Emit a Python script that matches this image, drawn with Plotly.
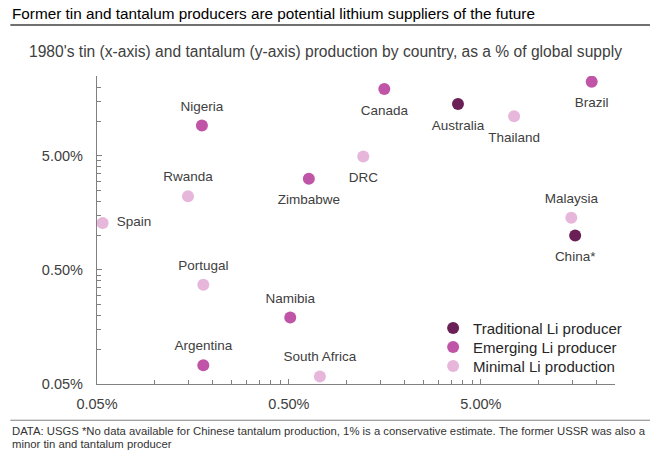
import plotly.graph_objects as go
import math

# ---- data (percent of global supply, 1980s) ----
trad_names = ["Australia", "China*"]
trad_tin = [3.8, 15.5]
trad_tantalum = [14.2, 1.0]

emerg_names = ["Nigeria", "Zimbabwe", "Canada", "Brazil", "Namibia", "Argentina"]
emerg_tin = [0.176, 0.635, 1.57, 18.9, 0.508, 0.179]
emerg_tantalum = [9.2, 3.14, 19.2, 22.3, 0.191, 0.073]

minimal_names = ["Rwanda", "Spain", "DRC", "Thailand", "Malaysia", "Portugal", "South Africa"]
minimal_tin = [0.149, 0.0535, 1.22, 7.45, 14.8, 0.179, 0.725]
minimal_tantalum = [2.21, 1.29, 4.93, 11.1, 1.43, 0.37, 0.0583]

major_ticks = [0.05, 0.5, 5.0]
major_labels = ["0.05%", "0.50%", "5.00%"]
minor_ticks = [m * k for m in major_ticks for k in range(2, 10)]
minor_ticks = [v for v in minor_ticks if v <= 25.0001]

# label placement (style)
label_pos = {
    "Australia": "bottom center", "China*": "bottom center",
    "Nigeria": "top center", "Zimbabwe": "bottom center", "Canada": "bottom center",
    "Brazil": "bottom center", "Namibia": "top center", "Argentina": "top center",
    "Rwanda": "top center", "Spain": "middle right", "DRC": "bottom center",
    "Thailand": "bottom center", "Malaysia": "top center", "Portugal": "top center",
    "South Africa": "top center",
}
# spacing between point and its label, via an invisible marker size per placement
label_gap = {"top center": 17, "bottom center": 23, "middle right": 21}

FONT = "Liberation Sans, Arial, sans-serif"
TXT = "#404040"

W, H = 660, 453
L, R, T, B = 96.7, 45, 76, 69.2

def px(p):
    return (p - L) / (W - L - R)

def py(p):
    return (H - B - p) / (H - T - B)

fig = go.Figure()
series = [
    ("Traditional Li producer", trad_tin, trad_tantalum, trad_names, "#6B1F57", "legend", 328),
    ("Emerging Li producer", emerg_tin, emerg_tantalum, emerg_names, "#C055A7", "legend2", 347),
    ("Minimal Li production", minimal_tin, minimal_tantalum, minimal_names, "#E7B6DB", "legend3", 366),
]
for name, xs, ys, labels, color, lg, _ in series:
    fig.add_trace(go.Scatter(
        x=xs, y=ys, text=labels, name=name, mode="markers",
        marker=dict(size=12, color=color, line=dict(width=0)),
        hovertemplate="%{text}<br>Tin: %{x}%<br>Tantalum: %{y}%<extra></extra>",
        legend=lg,
    ))

# country labels
all_names = trad_names + emerg_names + minimal_names
all_x = trad_tin + emerg_tin + minimal_tin
all_y = trad_tantalum + emerg_tantalum + minimal_tantalum
for pos, msize in label_gap.items():
    idx = [i for i, n in enumerate(all_names) if label_pos[n] == pos]
    fig.add_trace(go.Scatter(
        x=[all_x[i] for i in idx], y=[all_y[i] for i in idx],
        text=[all_names[i] for i in idx], mode="markers+text", textposition=pos,
        textfont=dict(family=FONT, size=13.5, color=TXT),
        marker=dict(size=msize, color="rgba(0,0,0,0)", line=dict(width=0)),
        showlegend=False, hoverinfo="skip",
    ))

axis_common = dict(
    type="log",
    range=[math.log10(0.05), math.log10(25)],
    tickmode="array", tickvals=major_ticks, ticktext=major_labels,
    ticks="inside", ticklen=5, tickwidth=1, tickcolor="#808080",
    showline=True, linecolor="#808080", linewidth=1.3,
    showgrid=False, zeroline=False,
    tickfont=dict(family=FONT, size=14.5, color=TXT),
    minor=dict(tickmode="array", tickvals=minor_ticks, ticks="inside",
               ticklen=4, tickwidth=1, tickcolor="#808080", showgrid=False),
)

legend_common = dict(xanchor="left", yanchor="middle",
                     font=dict(family=FONT, size=15, color="#262626"),
                     bgcolor="rgba(0,0,0,0)", itemwidth=30)

fig.update_layout(
    width=W, height=H,
    margin=dict(l=L, r=R, t=T, b=B),
    paper_bgcolor="white", plot_bgcolor="white",
    showlegend=True,
    legend=dict(x=px(433), y=py(series[0][6]), **legend_common),
    legend2=dict(x=px(433), y=py(series[1][6]), **legend_common),
    legend3=dict(x=px(433), y=py(series[2][6]), **legend_common),
    xaxis=dict(**axis_common, ticklabelstandoff=6),
    yaxis=dict(**axis_common, ticklabelstandoff=10),
    font=dict(family=FONT, color=TXT),
)

fig.add_annotation(text="Former tin and tantalum producers are potential lithium suppliers of the future",
                   xref="paper", yref="paper", x=px(10), y=py(14), xanchor="left", yanchor="middle",
                   showarrow=False, font=dict(family=FONT, size=15.3, color="#000000"))
fig.add_annotation(text="1980's tin (x-axis) and tantalum (y-axis) production by country, as a % of global supply",
                   xref="paper", yref="paper", x=px(27), y=py(52), xanchor="left", yanchor="middle",
                   showarrow=False, font=dict(family=FONT, size=15.6, color=TXT))
footer_lines = [
    "DATA: USGS *No data available for Chinese tantalum production, 1% is a conservative estimate. The former USSR was also a",
    "minor tin and tantalum producer",
]
for line, yc in zip(footer_lines, [431, 443.5]):
    fig.add_annotation(text=line, xref="paper", yref="paper", x=px(10), y=py(yc),
                       xanchor="left", yanchor="middle", align="left", showarrow=False,
                       font=dict(family=FONT, size=11.3, color="#333333"))

fig.add_shape(type="line", xref="paper", yref="paper", x0=px(10), x1=px(650), y0=py(25), y1=py(25),
              line=dict(color="#404040", width=1.5))
fig.add_shape(type="line", xref="paper", yref="paper", x0=px(10), x1=px(650), y0=py(420), y1=py(420),
              line=dict(color="#808080", width=1))

# remove the browser's default 8px page margin so the figure fills the window
fig.write_html("out.html",
               config={"displayModeBar": False},
               post_script="document.body.style.margin='0';document.body.style.overflow='hidden';")
